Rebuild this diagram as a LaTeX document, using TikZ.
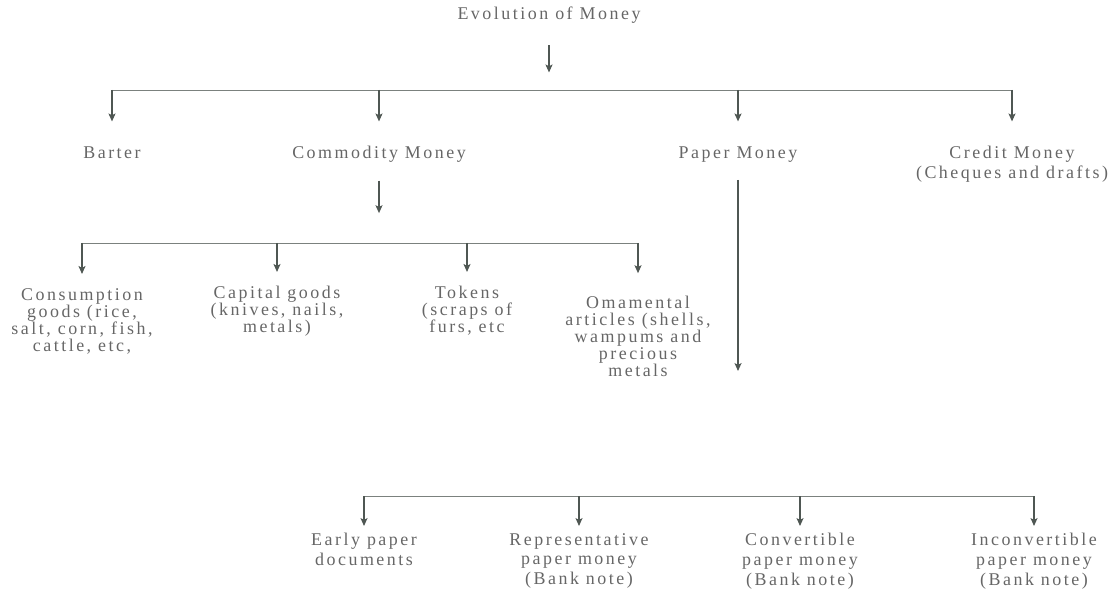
\documentclass[tikz,border=0pt]{standalone}
\usepackage{fontspec}
\setmainfont{Liberation Serif}[LetterSpace=14]
\usetikzlibrary{arrows.meta}
\definecolor{ScanInk}{HTML}{4F5753}
\definecolor{ScanText}{HTML}{666666}

\begin{document}
\begin{tikzpicture}[
  x=0.02cm, y=-0.02cm,
  lbl/.style={text=ScanText, align=center, inner sep=0pt, anchor=north, font=\fontsize{10.2}{9.7}\selectfont},
  wide/.style={font=\fontsize{10.2}{11.2}\selectfont},
  flow/.style={-{Stealth[length=4.5pt,width=4pt,inset=1pt]}, line width=0.65pt, draw=ScanInk},
  link/.style={line width=0.5pt, draw=ScanInk!75}
]
\useasboundingbox (0,0) rectangle (1111,590);

% levels of the tree
\coordinate (bar1) at (0,90);
\coordinate (bar2) at (0,243);
\coordinate (bar3) at (0,496);

\node[lbl] (title) at (549,7) {Evolution of Money};

\node[lbl] (barter) at (112,146) {Barter};
\node[lbl] (commodity) at (379,146) {Commodity Money};
\node[lbl] (paper) at (738,146) {Paper Money};
\node[lbl, wide] (credit) at (1012,146) {Credit Money\\(Cheques and drafts)};

\node[lbl] (consumption) at (82,288) {Consumption\\goods (rice,\\salt, corn, fish,\\cattle, etc,};
\node[lbl] (capital) at (277,286) {Capital goods\\(knives, nails,\\metals)};
\node[lbl] (tokens) at (467,286) {Tokens\\(scraps of\\furs, etc};
\node[lbl] (ornament) at (638,296) {Omamental\\articles (shells,\\wampums and\\precious\\metals};
\coordinate (paperend) at (738,371);

\node[lbl, wide] (early) at (364,533) {Early paper\\documents};
\node[lbl, wide] (repr) at (579,533) {Representative\\paper money\\(Bank note)};
\node[lbl, wide] (conv) at (800,533) {Convertible\\paper money\\(Bank note)};
\node[lbl, wide] (inconv) at (1034,533) {Inconvertible\\paper money\\(Bank note)};

% first split
\draw[flow, shorten <=12pt, shorten >=10pt] (title.south) -- (title.south |- bar1);
\draw[link] (barter.north |- bar1) -- (credit.north |- bar1);
\foreach \n in {barter,commodity,paper,credit}
  \draw[flow, shorten >=14pt] (\n.north |- bar1) -- (\n.north);

% commodity money
\draw[flow, shorten <=10pt, shorten >=17pt] (commodity.south) -- (commodity.south |- bar2);
\draw[link] (consumption.north |- bar2) -- (ornament.north |- bar2);
\foreach \n in {consumption,capital,tokens}
  \draw[flow, shorten >=8pt] (\n.north |- bar2) -- (\n.north);
\draw[flow, shorten >=13pt] (ornament.north |- bar2) -- (ornament.north);

% paper money
\draw[flow, shorten <=10pt] (paper.south) -- (paperend);
\draw[link] (early.north |- bar3) -- (inconv.north |- bar3);
\foreach \n in {early,repr,conv,inconv}
  \draw[flow, shorten >=4pt] (\n.north |- bar3) -- (\n.north);
\end{tikzpicture}
\end{document}
